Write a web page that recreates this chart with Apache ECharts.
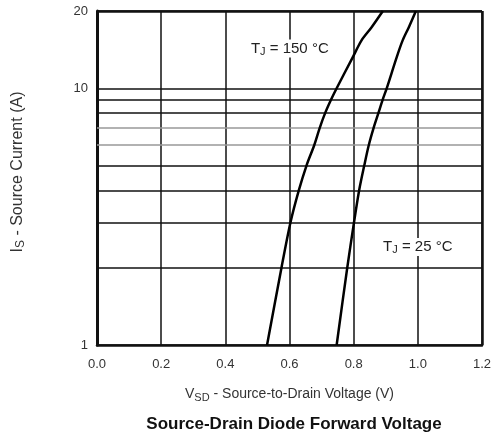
<!DOCTYPE html>
<html><head><meta charset="utf-8">
<script src="https://cdn.jsdelivr.net/npm/echarts@6/dist/echarts.min.js"></script>
<style>html,body{margin:0;padding:0;background:#fff}#c{width:494px;height:435px}</style>
</head><body><div id="c"></div>
<script>
// Data
var current = [1, 2, 3, 4, 5, 6, 7, 8, 9, 10, 13.2, 15.4, 17.3, 20];
var vsd150 = [0.53, 0.575, 0.603, 0.629, 0.653, 0.677, 0.694, 0.711, 0.729, 0.747, 0.797, 0.825, 0.856, 0.891];
var vsd25 = [0.747, 0.780, 0.801, 0.817, 0.833, 0.847, 0.862, 0.877, 0.890, 0.903, 0.934, 0.953, 0.972, 0.994];
var xTicks = [0.0, 0.2, 0.4, 0.6, 0.8, 1.0, 1.2];
var yTickLabels = [1, 10, 20];
var darkGrid = [2, 3, 4, 5, 8, 9];
var lightGrid = [6, 7];
var label150 = {v: 0.601, i: 14.3, t: '150'};
var label25 = {v: 1.0, i: 2.41, t: '25'};

function pairs(xs) { return xs.map(function (v, k) { return [v, current[k]]; }); }

var chart = echarts.init(document.getElementById('c'), null, {renderer: 'canvas'});
var font = 'Liberation Sans, Arial, sans-serif';
var tjRich = {
  a: {fontFamily: font, fontSize: 15, color: '#222'},
  s: {fontFamily: font, fontSize: 11, color: '#222', padding: [7, 0, 0, 0]}
};
var xRich = {
  a: {fontFamily: font, fontSize: 14, color: '#333'},
  s: {fontFamily: font, fontSize: 11, color: '#333', padding: [7, 0, 0, 0]}
};
var yRich = {
  a: {fontFamily: font, fontSize: 16, color: '#333'},
  s: {fontFamily: font, fontSize: 12, color: '#333', padding: [7, 0, 0, 0]}
};
function tjLabel(o) {
  return {
    coord: [o.v, o.i], symbol: 'rect', symbolSize: [84, 18],
    itemStyle: {color: '#fff'},
    label: {show: true, position: 'inside', formatter: '{a|T}{s|J}{a| = ' + o.t + ' °C}', rich: tjRich}
  };
}
var gridLine = function (vals, color) {
  return vals.map(function (v) { return {yAxis: v, lineStyle: {color: color, width: 1.5, type: 'solid'}}; });
};

chart.setOption({
  animation: false,
  title: {
    text: 'Source-Drain Diode Forward Voltage', left: 289, top: 411, textAlign: 'center',
    textStyle: {fontFamily: font, fontSize: 17, fontWeight: 'bold', color: '#111'}
  },
  grid: {left: 97, right: 12, top: 11, bottom: 90, containLabel: false, outerBoundsMode: 'none'},
  xAxis: {
    type: 'value', min: 0, max: 1.2, interval: 0.2,
    axisLine: {show: true, onZero: false, lineStyle: {color: '#111', width: 2.5}},
    axisTick: {show: false},
    axisLabel: {fontFamily: font, fontSize: 13, color: '#333', margin: 13, formatter: function (v) { return v.toFixed(1); }},
    splitLine: {show: true, lineStyle: {color: '#111', width: 1.5}},
    name: '{a|V}{s|SD}{a| - Source-to-Drain Voltage (V)}',
    nameLocation: 'middle', nameGap: 40,
    nameTextStyle: {rich: xRich}
  },
  yAxis: {
    type: 'log', logBase: 10, min: 1, max: 20,
    axisLine: {show: true, lineStyle: {color: '#111', width: 3}},
    axisTick: {show: false},
    axisLabel: {fontFamily: font, fontSize: 13, color: '#333', margin: 9, showMaxLabel: true, showMinLabel: true,
      formatter: function (v) { return yTickLabels.indexOf(Math.round(v)) >= 0 ? String(Math.round(v)) : ''; }},
    splitLine: {show: true, lineStyle: {color: '#111', width: 1.5}},
    name: '{a|I}{s|S}{a| - Source Current (A)}',
    nameLocation: 'middle', nameGap: 70, nameRotate: 90,
    nameTextStyle: {rich: yRich, padding: [0, 0, 0, 12]}
  },
  series: [
    {
      type: 'line', data: [], silent: true,
      markLine: {silent: true, symbol: 'none', label: {show: false},
        data: gridLine(darkGrid, '#111').concat(gridLine(lightGrid, '#999')).concat([{yAxis: 20, lineStyle: {color: '#111', width: 2.5, type: 'solid'}}]).concat([{xAxis: 1.2, lineStyle: {color: '#111', width: 2.5, type: 'solid'}}])}
    },
    {
      type: 'line', data: pairs(vsd150), smooth: 0.3, showSymbol: false,
      lineStyle: {color: '#000', width: 2.5}, z: 5,
      markPoint: {data: [tjLabel(label150)]}
    },
    {
      type: 'line', data: pairs(vsd25), smooth: 0.3, showSymbol: false,
      lineStyle: {color: '#000', width: 2.5}, z: 5,
      markPoint: {data: [tjLabel(label25)]}
    }
  ]
});
</script></body></html>
